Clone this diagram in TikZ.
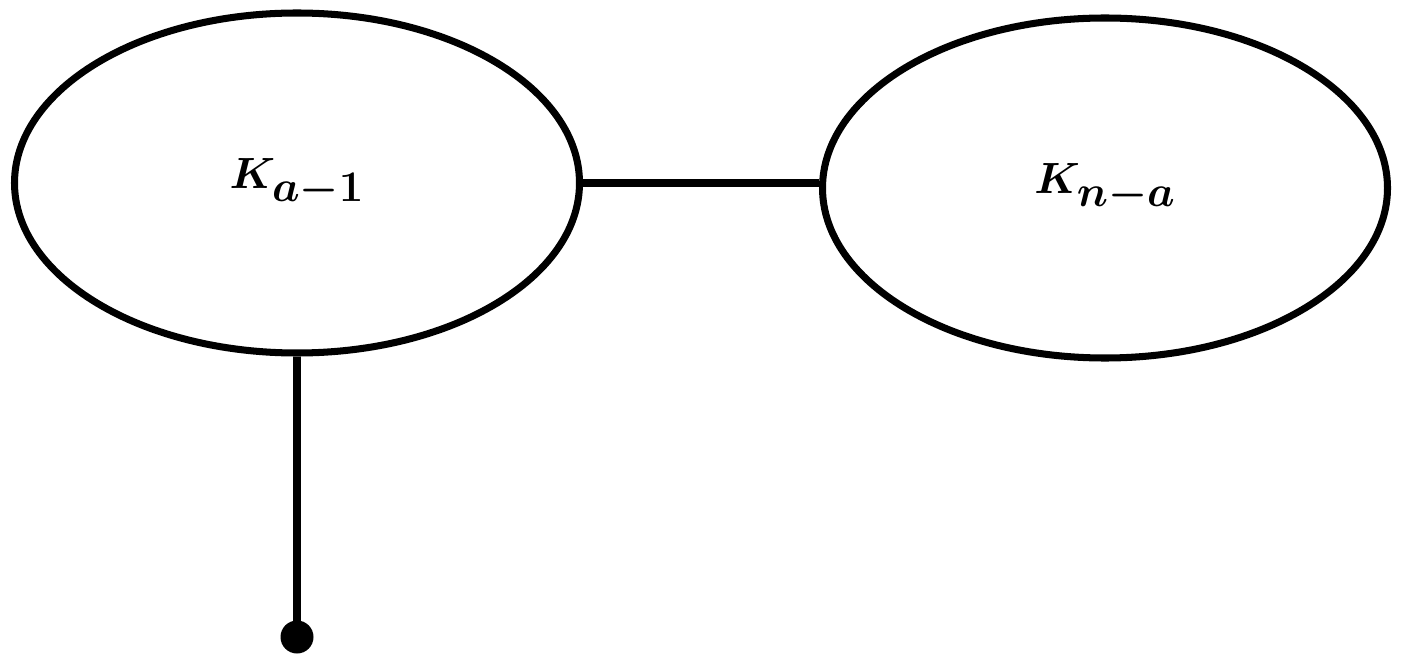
\documentclass[tikz,border=0pt]{standalone}
\usepackage{amsmath,bm}
\usetikzlibrary{shapes.geometric}
\tikzset{
  blob/.style = {draw, ellipse, line width=4pt, inner sep=0pt,
    minimum width=11.3cm, minimum height=6.8cm,
    font=\fontsize{38}{42}\selectfont}
}
\begin{document}
\begin{tikzpicture}[line width=4pt]
  \useasboundingbox (0,0) rectangle (28.04,13.3);
  \node[blob] (left)  at (5.94,9.64) {$\bm{K_{a-1}}$};
  \node[blob] (right) at (22.1,9.54) {$\bm{K_{n-a}}$};
  \coordinate (tail) at (5.94,0.56);
  \draw (left.east) -- (left.east -| right.west);
  \draw (left.south) -- (tail);
  \fill (tail) circle (0.33);
\end{tikzpicture}
\end{document}
